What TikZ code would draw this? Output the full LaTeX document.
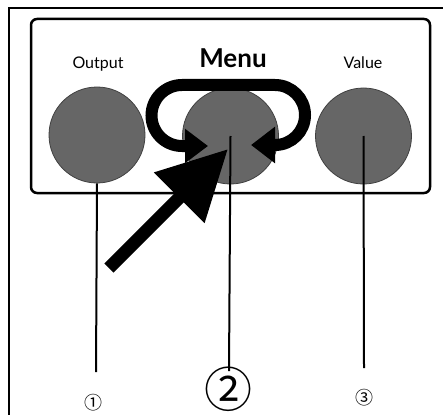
\documentclass[tikz,border=0pt]{standalone}
\usepackage{fontspec}
\setmainfont{Lato}
\newfontfamily\cjk{Noto Sans CJK JP}
\usetikzlibrary{arrows.meta}
\definecolor{knobgray}{RGB}{102,102,102}

\begin{document}
\begin{tikzpicture}[x=1pt, y=-1pt,
    button/.style={draw=black!75, line width=0.8pt, fill=knobgray, circle, minimum size=96pt, inner sep=0pt},
    btntext/.style={anchor=base, font=\fontsize{16}{16}\selectfont},
    marker/.style={inner sep=0pt, font=\cjk\fontsize{#1}{#1}\selectfont}]
    \useasboundingbox (0,0) rectangle (443,414);
    \clip (0,0) rectangle (443,414);
    \draw[line width=2pt] (9,8) rectangle (460,430);
    \draw[line width=2.5pt, rounded corners=6pt] (31,19) rectangle (430,193);

    \node[button] (out) at (97,135) {};
    \node[button] (menu) at (230.5,136) {};
    \node[button] (val) at (363.5,136) {};

    \node[btntext] (outtxt) at (98,69) {Output};
    \node[btntext, font=\bfseries\fontsize{26}{26}\selectfont] (menutxt) at (233,68) {Menu};
    \node[btntext] (valtxt) at (363,69) {Value};

    \node[marker=18] (n1) at (93,403) {①};
    \node[marker=48] (n2) at (228,389) {②};
    \node[marker=18] (n3) at (364,398) {③};

    \coordinate (e1) at (96,372);
    \coordinate (e2) at (229,371);
    \coordinate (e3) at (364,368);
    \draw[line width=2pt] (out.south) -- (e1);
    \draw[line width=2pt] (menu.center) -- (e2);
    \draw[line width=2pt] (val.center) -- (e3);

    % loop around the menu key
    \draw[line width=12pt, {Triangle[length=23pt,width=33pt]}-{Triangle[length=24pt,width=35pt]}]
        (208,146) -- (182,146) arc[start angle=90, end angle=270, radius=30.5]
        -- (275,85) arc[start angle=270, end angle=450, radius=30] -- (251,145);

    % press
    \coordinate (push) at (109,268);
    \coordinate (hit) at (228,149);
    \draw[line width=13pt, -{Triangle[length=69pt,width=68pt]}] (push) -- (hit);
\end{tikzpicture}
\end{document}
